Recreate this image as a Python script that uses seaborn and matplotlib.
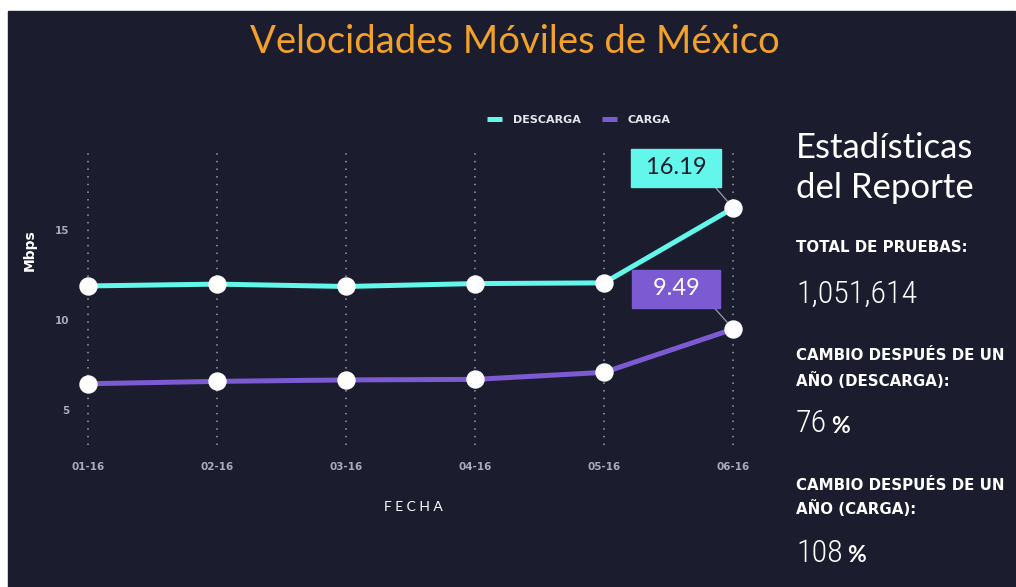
import pandas as pd
import matplotlib
matplotlib.use("Agg")
import matplotlib.pyplot as plt
from matplotlib.patches import Rectangle
import seaborn as sns

# Data (Mbps per month)
fechas = ["01-16", "02-16", "03-16", "04-16", "05-16", "06-16"]
descarga = [11.88, 11.98, 11.85, 12.01, 12.05, 16.19]
carga = [6.47, 6.60, 6.68, 6.71, 7.10, 9.49]
series = ["DESCARGA", "CARGA"]
yticks = [5, 10, 15]

total_pruebas = "1,051,614"
cambio_descarga = "76"
cambio_carga = "108"

bg = "#1b1d2e"
cyan = "#62f7ea"
purple = "#7b5ad2"
orange = "#f2a12a"
grey = "#a9abb8"

df = pd.DataFrame({
    "Fecha": fechas * 2,
    "Mbps": descarga + carga,
    "Serie": [series[0]] * len(fechas) + [series[1]] * len(fechas),
})
df["pos"] = df["Fecha"].map({f: i for i, f in enumerate(fechas)})

sns.set_style("dark")
plt.rcParams["font.family"] = ["Lato", "DejaVu Sans"]
bold_sans = ["DejaVu Sans"]

fig = plt.figure(figsize=(10.16, 5.87), dpi=100, facecolor="white")
# dark card with the thin white border on top/left
fig.patches.append(Rectangle((8 / 1016, 0), 1007 / 1016, 1 - 11 / 587,
                             transform=fig.transFigure, color=bg, zorder=-10))

ax = fig.add_axes([76 / 1016, 1 - 445 / 587, 674 / 1016, 295 / 587])
ax.set_facecolor(bg)
ax.patch.set_alpha(0)

sns.lineplot(data=df, x="pos", y="Mbps", hue="Serie", palette=[cyan, purple],
             linewidth=3.6, ax=ax, zorder=3)
sns.scatterplot(data=df, x="pos", y="Mbps", color="white", s=150,
                edgecolor="white", legend=False, ax=ax, zorder=4)

ax.set_xlim(-0.093, 5.13)
ax.set_ylim(3.08, 19.4)
ax.set_xticks(range(len(fechas)))
ax.set_xticklabels(fechas)
ax.set_yticks(yticks)
ax.tick_params(axis="x", length=0, pad=12, labelsize=7.5, labelcolor=grey)
ax.tick_params(axis="y", length=0, pad=5, labelsize=7.5, labelcolor=grey)
for lbl in ax.get_xticklabels() + ax.get_yticklabels():
    lbl.set_fontweight("bold")
    lbl.set_family(bold_sans)
ax.grid(False)
for i in range(len(fechas)):
    ax.axvline(i, color="#9a9cab", lw=1.1, linestyle=(0, (1, 4)), zorder=1)
for s in ax.spines.values():
    s.set_visible(False)

ax.set_xlabel("F E C H A", color="white", fontsize=10, labelpad=21)
ax.set_ylabel("Mbps", color="white", fontsize=10, fontweight="bold",
              family=bold_sans)
ax.yaxis.set_label_coords(-0.058, 0.66)

# value callouts on the last point (boxes kept the same width)
last = len(fechas) - 1
for val, fc, tc in [(descarga[-1], cyan, "#1b1d2e"), (carga[-1], purple, "white")]:
    s = f"{val:.2f}"
    pad = " " * (1 + 5 - len(s))
    ax.annotate(pad + s + pad, xy=(last, val), xytext=(-41, 29),
                textcoords="offset points", ha="center", va="center",
                fontsize=17, color=tc, zorder=5,
                bbox=dict(boxstyle="square,pad=0.36", fc=fc, ec=fc),
                arrowprops=dict(arrowstyle="-", color="#9a9cab", lw=0.9,
                                relpos=(0.93, 0), shrinkA=0, shrinkB=6))

# legend above the plot
handles, labels = ax.get_legend_handles_labels()
ax.get_legend().remove()
leg = fig.legend(handles, labels, loc="center left",
                 bbox_to_anchor=(481 / 1016, 1 - 120 / 587), ncol=2,
                 frameon=False, prop=dict(family=bold_sans, weight="bold", size=8),
                 handlelength=1.35, handletextpad=1.0, columnspacing=1.9,
                 borderpad=0)
for t in leg.get_texts():
    t.set_color("#e6e6ee")
for h in leg.legend_handles:
    h.set_solid_capstyle("butt")

fig.text(515 / 1016, 1 - 42 / 587, "Velocidades Móviles de México",
         color=orange, fontsize=27.5, ha="center", va="center")

# side panel with report statistics
x0 = 796 / 1016
head = dict(color="white", fontsize=25, va="center")
fig.text(x0, 1 - 148 / 587, "Estadísticas", **head)
fig.text(x0, 1 - 188 / 587, "del Reporte", **head)
lab = dict(color="white", fontsize=10.8, fontweight="bold", va="center",
           family=bold_sans)
num = dict(color="white", fontsize=23, va="center", fontweight="light",
           family=["Roboto Condensed", "DejaVu Sans"], fontstretch="condensed")
pct = dict(color="white", fontsize=16.5, fontweight="bold", va="bottom",
           textcoords="offset points", xytext=(3, 0), xy=(1, 0.04))

fig.text(x0, 1 - 248 / 587, "TOTAL DE PRUEBAS:", **lab)
fig.text(x0, 1 - 294 / 587, total_pruebas, **num)
fig.text(x0, 1 - 356 / 587, "CAMBIO DESPUÉS DE UN", **lab)
fig.text(x0, 1 - 380 / 587, "AÑO (DESCARGA):", **lab)
t1 = fig.text(x0, 1 - 424 / 587, cambio_descarga, **num)
fig.texts.append(matplotlib.text.Annotation("%", xycoords=t1, **pct))
fig.text(x0, 1 - 486 / 587, "CAMBIO DESPUÉS DE UN", **lab)
fig.text(x0, 1 - 508 / 587, "AÑO (CARGA):", **lab)
t2 = fig.text(x0, 1 - 553 / 587, cambio_carga, **num)
fig.texts.append(matplotlib.text.Annotation("%", xycoords=t2, **pct))
for a in fig.texts[-1:] + [fig.texts[-5]]:
    a.set_figure(fig)

fig.savefig("out.png", dpi=100, facecolor=fig.get_facecolor())
